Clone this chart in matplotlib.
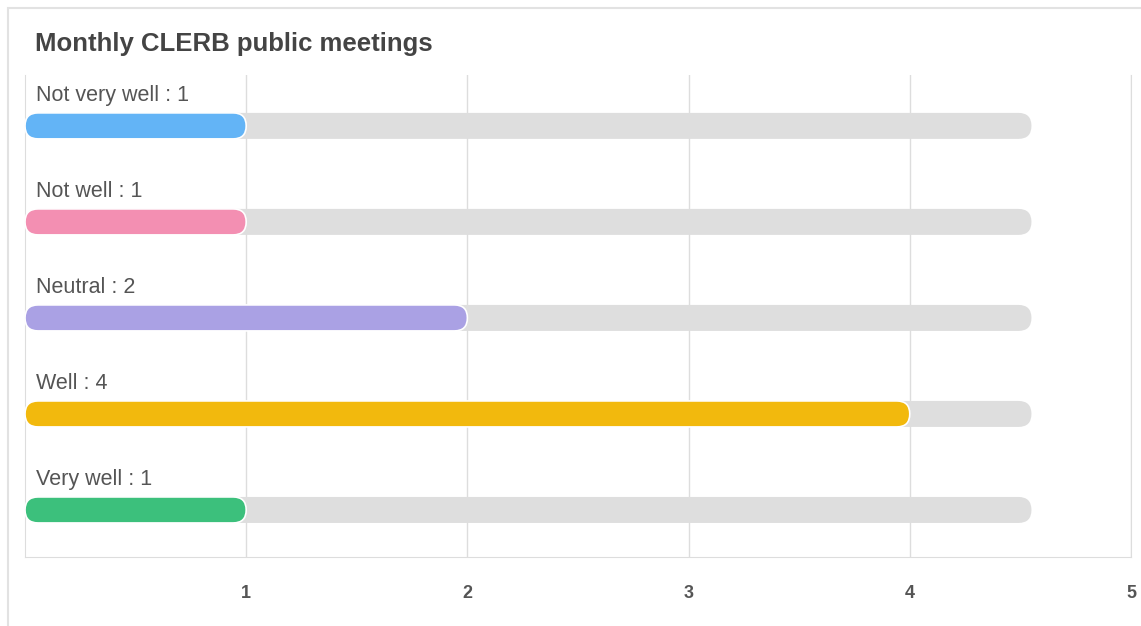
import matplotlib
matplotlib.use("Agg")
import matplotlib.pyplot as plt
from matplotlib.patches import FancyBboxPatch, Rectangle

plt.rcParams["font.family"] = ["Liberation Sans", "DejaVu Sans"]

# ── data
categories = ["Not very well", "Not well", "Neutral", "Well", "Very well"]
counts     = [1, 1, 2, 4, 1]
colors     = ["#63b4f6", "#f38fb2", "#aaa1e4", "#f2b90d", "#3cc07c"]
track_max  = 4.55          # grey background track length
x_ticks    = [1, 2, 3, 4, 5]

W, H = 1141, 626
fig = plt.figure(figsize=(W / 100, H / 100), dpi=100)

# card border
fig.add_artist(Rectangle((8 / W, -0.1), 1.2, (H - 8) / H + 0.1,
                         transform=fig.transFigure, fill=False,
                         edgecolor="#e2e2e2", lw=1.5))
fig.text(35 / W, 1 - 51 / H, "Monthly CLERB public meetings", fontsize=18.5,
         fontweight="bold", color="#444444", va="baseline", ha="left")

# plot area: x 25..1131, y 75..557 (pixels)
ax = fig.add_axes([25 / W, 1 - 557 / H, (1131 - 25) / W, (557 - 75) / H])
ax.set_xlim(0, 5)
ax.set_ylim(4.49, -0.53)

px_x = 5 / (1131 - 25)          # data units per pixel along x
px_y = (4.49 + 0.53) / (557 - 75)
aspect = px_y / px_x
bar_h = 26 * px_y
rad = 13 * px_x

def pill(x0, x1, yc, color, z, edge="none"):
    p = FancyBboxPatch((x0, yc - bar_h / 2), x1 - x0, bar_h,
                       boxstyle=f"round,pad=0,rounding_size={rad}",
                       mutation_aspect=aspect, facecolor=color,
                       edgecolor=edge, lw=1.2, zorder=z)
    ax.add_patch(p)

for i, (cat, val, col) in enumerate(zip(categories, counts, colors)):
    pill(0, track_max, i, "#dedede", 2)
    pill(0, val, i, col, 3, edge="white")
    ax.text(11 * px_x, i - 25 * px_y, f"{cat} : {val}", fontsize=15.5,
            color="#555555", va="baseline", ha="left", zorder=4)

ax.set_xticks(x_ticks)
ax.set_xticklabels([str(t) for t in x_ticks], fontweight="bold",
                   color="#555555", fontsize=13)
ax.tick_params(axis="x", length=0, pad=20)
ax.set_yticks([])
ax.grid(axis="x", color="#dddddd", lw=1, zorder=0)
ax.set_axisbelow(True)
for side in ["left", "bottom", "right"]:
    ax.spines[side].set_color("#dddddd")
ax.spines["top"].set_visible(False)

fig.savefig("out.png", dpi=100)
